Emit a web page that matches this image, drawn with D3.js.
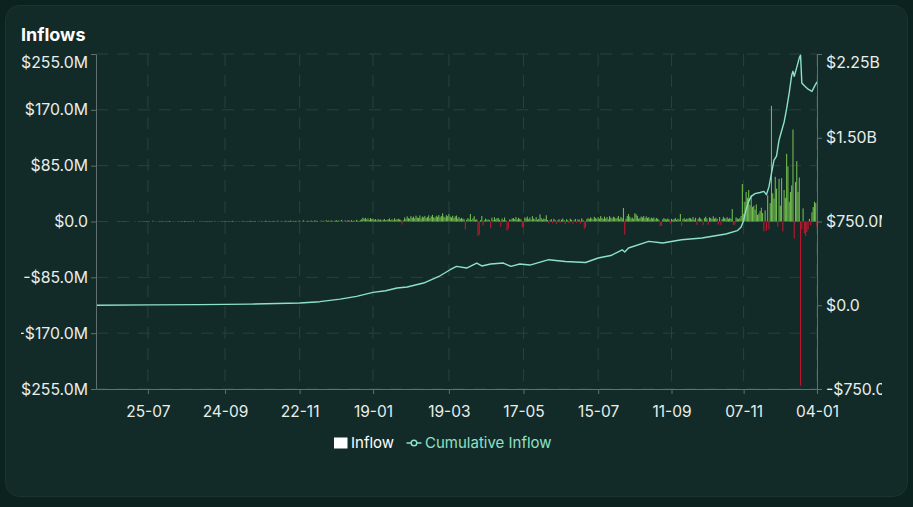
<!DOCTYPE html>
<html>
<head>
<meta charset="utf-8">
<script src="https://cdn.jsdelivr.net/npm/d3@7"></script>
<style>
  body { margin: 0; background: #0b221e; font-family: Inter, "Noto Sans", sans-serif; }
  .axis text { fill: #e8eeec; font-size: 15.8px; font-family: Inter, sans-serif; }
  .axis.x text { font-size: 15.5px; }
  .axis path, .axis line { stroke: #5f706d; }
</style>
</head>
<body>
<div id="chart"></div>
<script>
// Daily inflows in $M, one value per day starting at inflowStart
var inflowStart = "2023-06-14";
var inflowM = [
  0, 0, 0, 0, 0, 0, 0, 0, 0, 0,
  0, 0, 0, 0, 0, 0, 0, 0, 0.2, 0,
  0, 0, 0.3, 0, 0, 0, 0, 0.1, 0, 0,
  0, 0.4, 0, 0, 0.2, 0, 0, 0, 0.5, 0,
  0.6, 0, 0.3, 0, 0, 1.2, 0, 0.4, 0, 0.3,
  0.5, 0, 0.8, 0, 0.2, 0, 0.4, 0, 0.9, 0.3,
  0, 0.6, 0, 0.3, 0, 0.7, 0.2, 0, 0.4, 0,
  0.8, 0.3, 0, 0.5, 0, 0.4, 0, 1.1, 0.2, 0,
  0.3, 0, 0.6, 0.4, 0, 0.2, 0, 0.5, 0.3, 0,
  0.7, 0, 0.4, 0, 0.9, 0.3, 0, 0.5, 0, 0.6,
  0.4, 0, 0.8, 0.2, 0, 0.5, 0, 0.3, 1.0, 0,
  0.5, 0.3, 0, 0.7, 0, 0.4, 0.9, 0, 0.3, 0,
  0.6, 0, 1.1, 0.4, 0, 0.5, 0.8, 0, 0.3, 0.7,
  0, 0.9, 0.4, 0, 1.2, 0.5, 0, 0.8, 0.3, 0,
  1.0, 0.4, 0, 0.7, 1.3, 0, 0.5, 0.9, 0, 0.6,
  1.2, 0, 0.8, 0.5, 1.5, 0, 0.9, 0.4, 1.1, 0,
  0.9, 1.4, 0, 0.6, 1.8, 0.5, 0, 1.2, 0.8, 0,
  1.5, 0.7, 0, 1.9, 0.6, 1.1, 0, -0.8, 1.4, 0.5,
  1.2, 0, 2.1, 0.8, 1.5, 0, 1.8, 0.6, 0, 1.3,
  2.0, 0.9, 1.6, 0, 2.4, 1.1, 0, 1.9, 0.7, 1.5,
  1.8, -1.2, 2.2, 0.8, 1.4, 0, 2.6, 1.2, 0.5, 2.0,
  3.5, 5.8, 4.2, 5.5, 3.0, 4.8, 2.5, 5.2, 3.8, 4.4,
  2.8, 3.5, 1.6, 4.0, 2.2, 3.1, 1.4, 2.6, 3.8, 1.9,
  2.4, 3.2, 4.6, 2.0, 3.5, 1.8, 5.0, 2.7, 3.3, 4.2,
  3.1, 2.5, -4.5, 1.8, 6.2, 3.5, 7.8, 5.1, 4.3, 8.2,
  5.6, 7.4, 4.8, 8.9, 6.1, 5.3, 9.2, 4.5, 7.6, 6.3,
  8.5, 5.2, 6.8, 9.4, 4.9, 7.7, 10.2, 6.4, 5.8, 8.8,
  7.1, 9.8, 6.5, 8.3, 12.5, 7.4, 5.9, 9.6, 8.1, 11.8,
  7.5, 6.2, 8.8, 5.4, 7.9, 9.1, 4.6, 6.8, 3.9, 5.5,
  4.2, 3.5, -12, 2.8, 5.1, 3.3, 11.5, 2.2, 4.8, 8.1,
  2.5, 3.4, -22, -20, 2.1, 8.5, -6, 1.8, 4.4, 2.6,
  3.1, 2.4, -10, 5.8, 1.9, 6.5, 3.2, 4.9, 5.4, 2.7,
  -8, 4.5, 2.3, 6.1, 1.8, -14, -11, 3.2, 2.6, 4.7,
  5.2, 3.6, 6.8, 2.9, 5.5, 4.1, 3.3, -9, -8.5, 6.2,
  4.8, 7.5, 3.3, 5.9, 2.6, 8.2, 4.4, 3.1, 6.7, 2.8,
  3.9, 11, 5.2, 2.7, 4.6, 3.8, 9.5, 2.4, -3, 1.9,
  3.5, -2.5, 4.1, 2.2, -3.8, 1.6, 3.4, -2, 2.8, 4.5,
  2.1, -4, 3.6, 1.9, -2.8, 4.2, 2.5, -3.5, 1.7, 3.9,
  -2.2, 3.3, 2.6, -3.1, 4.8, 2.2, -11, -9, 3.5, 5.1,
  3.7, 6.2, 4.5, 2.9, 7.1, 5.3, 3.8, 6.6, 4.1, 8.3,
  5.5, 3.9, 7.4, 4.7, 6.8, 3.2, 8.1, 5.9, 4.4, 7.2,
  6.3, 4.2, 5.6, 8.4, 3.7, 6.9, 4.8, 20.5, -20, 4.1,
  8.5, 11.5, 7.4, 4.6, 6.1, 3.9, 12.5, 11, 8.7, 4.4,
  5.1, 7.6, 6.3, 8.2, 4.9, 7.8, 5.5, 6.4, 3.6, 5.9,
  4.7, 6.1, 3.2, 5.4, 4.3, 2.8, -7, -6.5, 3.1, 5.2,
  3.8, 2.9, 4.6, 3.3, -3.2, 4.1, 2.5, 3.7, 5.3, 2.4,
  4.2, 3.1, 11.5, -7, 3.6, 5.2, 2.8, 4.4, 3.9, 5.6,
  4.9, 3.3, 6.7, 2.7, 5.8, -5, 3.9, 6.4, 4.5, 2.9,
  -5.5, 5.1, 7.3, 4.6, -4.8, 6.2, 5.4, 3.8, 7.9, 4.3,
  5.7, 4.1, -4.5, 6.8, -5.2, 3.6, 7.2, 5.1, 4.4, 6.6,
  3.9, 5.4, 4.2, 19, -5.5, -4.8, 6.3, 4.7, 3.6, 5.2,
  8.5, 57, 12, 30, 45, 36, 48, 25, 40, 22,
  24, 18, 26, 10, 12, 16, 21, 13, -15, 17,
  -14, 40, -12, 28, 176, 43, 35, 68, 50, -8,
  65, 24, 66, -15, 48, 36, 103, 84, 30, 45,
  55, 140, -26, 60, 92, 45, 67, -250, -12, 20,
  -18, -22, -16, -12, 4, -6, 14, 22, 30, 28,
  -8
];

// Cumulative inflow in $M
var cumDates = [
  "2023-06-14", "2023-07-27", "2023-09-04", "2023-10-14", "2023-11-22", "2023-12-08",
  "2023-12-24", "2024-01-06", "2024-01-19", "2024-01-29", "2024-02-07", "2024-02-15",
  "2024-02-28", "2024-03-12", "2024-03-20", "2024-03-25", "2024-04-02", "2024-04-10",
  "2024-04-14", "2024-04-21", "2024-05-01", "2024-05-07", "2024-05-14", "2024-05-22",
  "2024-06-06", "2024-06-19", "2024-07-05", "2024-07-15", "2024-07-25", "2024-08-03",
  "2024-08-05", "2024-08-08", "2024-08-24", "2024-09-04", "2024-09-19", "2024-10-05",
  "2024-10-24", "2024-11-02", "2024-11-05", "2024-11-07", "2024-11-09", "2024-11-11",
  "2024-11-13", "2024-11-16", "2024-11-20", "2024-11-23", "2024-11-25", "2024-11-27",
  "2024-11-29", "2024-12-01", "2024-12-03", "2024-12-05", "2024-12-07", "2024-12-09",
  "2024-12-11", "2024-12-13", "2024-12-15", "2024-12-16", "2024-12-17", "2024-12-19",
  "2024-12-21", "2024-12-22", "2024-12-23", "2024-12-25", "2024-12-28", "2024-12-31",
  "2025-01-02", "2025-01-04"
];
var cumValues = [
  0, 3, 6, 10, 20, 32,
  55, 79, 115, 130, 154, 163,
  199, 264, 318, 348, 333, 378,
  352, 369, 378, 348, 369, 360,
  408, 392, 383, 423, 445, 497,
  477, 513, 572, 557, 587, 602,
  638, 668, 700, 760, 860, 930,
  975, 1000, 1010, 1020, 990, 1060,
  1180, 1300, 1335, 1480, 1560, 1640,
  1760, 1900, 2060, 2095, 2050, 2130,
  2215, 2240, 1990, 1965, 1935, 1915,
  1960, 2000
];

// Axis ticks
var xTickDates = ["2023-07-25", "2023-09-24", "2023-11-22", "2024-01-19", "2024-03-19",
  "2024-05-17", "2024-07-15", "2024-09-11", "2024-11-07", "2025-01-04"];
var leftTicks = [-255, -170, -85, 0, 85, 170, 255];
var rightTicks = [-750, 0, 750, 1500, 2250];

var svgWidth = 913;
var svgHeight = 507;
var margin = { top: 54, right: 96, bottom: 118, left: 96 };
var width = svgWidth - margin.left - margin.right;
var height = svgHeight - margin.top - margin.bottom;

var parseDate = d3.utcParse("%Y-%m-%d");
var start = parseDate(inflowStart);

var inflows = inflowM.map(function(v, i) {
  return { date: d3.utcDay.offset(start, i), value: v };
});
var cumulative = cumDates.map(function(d, i) {
  return { date: parseDate(d), value: cumValues[i] };
});

function money(v) {
  if (v === 0) return "$0.0";
  var sign = v < 0 ? "-" : "";
  var a = Math.abs(v);
  if (a >= 1000) return sign + "$" + (a / 1000).toFixed(2) + "B";
  return sign + "$" + a.toFixed(1) + "M";
}

var svg = d3.select("#chart")
  .append("svg")
  .attr("width", svgWidth)
  .attr("height", svgHeight);

// card
svg.append("rect")
  .attr("x", 5.5).attr("y", 5.5)
  .attr("width", 902).attr("height", 491)
  .attr("rx", 14)
  .attr("fill", "#132b28")
  .attr("stroke", "#1a3430");

svg.append("clipPath").attr("id", "clip")
  .append("rect")
  .attr("x", 21).attr("y", 0)
  .attr("width", 861).attr("height", svgHeight);

var root = svg.append("g").attr("clip-path", "url(#clip)");

root.append("text")
  .attr("x", 21).attr("y", 41)
  .attr("fill", "#ffffff")
  .attr("font-size", 18)
  .attr("font-weight", "bold")
  .text("Inflows");

var chartGroup = root.append("g")
  .attr("transform", `translate(${margin.left}, ${margin.top})`);

var xScale = d3.scaleUtc()
  .domain([start, parseDate("2025-01-04")])
  .range([0, width]);

var yLeft = d3.scaleLinear().domain([-255, 255]).range([height, 0]);
var yRight = d3.scaleLinear().domain([-750, 2250]).range([height, 0]);

var xTicks = xTickDates.map(parseDate);

// grid
chartGroup.append("g")
  .selectAll("line").data(leftTicks).enter()
  .append("line")
  .attr("x1", 0).attr("x2", width)
  .attr("y1", d => yLeft(d)).attr("y2", d => yLeft(d))
  .attr("stroke", "#2a423e")
  .attr("stroke-dasharray", "12 9");

chartGroup.append("g")
  .selectAll("line").data(xTicks).enter()
  .append("line")
  .attr("x1", d => xScale(d)).attr("x2", d => xScale(d))
  .attr("y1", 0).attr("y2", height)
  .attr("stroke", "#2a423e")
  .attr("stroke-dasharray", "12 9");

// bars
var dayW = xScale(d3.utcDay.offset(start, 1)) - xScale(start);
var barW = dayW * 0.85;

chartGroup.append("g")
  .selectAll("rect").data(inflows.filter(d => d.value !== 0)).enter()
  .append("rect")
  .attr("x", d => xScale(d.date) - barW / 2)
  .attr("y", d => Math.min(yLeft(d.value), yLeft(0)))
  .attr("width", barW)
  .attr("height", d => Math.abs(yLeft(d.value) - yLeft(0)))
  .attr("fill", d => d.value >= 0 ? "#72bb4e" : "#c2162f");

// cumulative line
var line = d3.line()
  .x(d => xScale(d.date))
  .y(d => yRight(d.value));

chartGroup.append("path")
  .datum(cumulative)
  .attr("d", line)
  .attr("fill", "none")
  .attr("stroke", "#8de0c9")
  .attr("stroke-width", 1.4)
  .attr("stroke-linejoin", "round");

// axes
var leftAxis = d3.axisLeft(yLeft).tickValues(leftTicks).tickFormat(money)
  .tickSize(5).tickSizeOuter(0).tickPadding(3);
var rightAxis = d3.axisRight(yRight).tickValues(rightTicks).tickFormat(money)
  .tickSize(5).tickSizeOuter(0).tickPadding(4);
var bottomAxis = d3.axisBottom(xScale).tickValues(xTicks).tickFormat(d3.utcFormat("%d-%m"))
  .tickSize(5).tickSizeOuter(0).tickPadding(12);

var gl = chartGroup.append("g").attr("class", "axis").call(leftAxis);
var gr = chartGroup.append("g").attr("class", "axis")
  .attr("transform", `translate(${width}, 0)`).call(rightAxis);
var gb = chartGroup.append("g").attr("class", "axis x")
  .attr("transform", `translate(0, ${height})`).call(bottomAxis);

[gl, gr, gb].forEach(function(g) {
  g.attr("font-family", null).attr("font-size", null);
});
// top labels sit a little below their tick
gl.selectAll(".tick").filter(d => d === 255).select("text").attr("y", 8);
gr.selectAll(".tick").filter(d => d === 2250).select("text").attr("y", 8);

// legend
var legend = root.append("g");
legend.append("rect")
  .attr("x", 334).attr("y", 437.5)
  .attr("width", 13.5).attr("height", 11)
  .attr("fill", "#ffffff");
legend.append("text")
  .attr("x", 351).attr("y", 448)
  .attr("fill", "#ffffff")
  .attr("font-size", 15)
  .text("Inflow");
legend.append("line")
  .attr("x1", 406.5).attr("x2", 421.5)
  .attr("y1", 443).attr("y2", 443)
  .attr("stroke", "#8de0c9").attr("stroke-width", 1.5);
legend.append("circle")
  .attr("cx", 414).attr("cy", 443).attr("r", 2.8)
  .attr("fill", "#132b28")
  .attr("stroke", "#8de0c9").attr("stroke-width", 1.5);
legend.append("text")
  .attr("x", 425).attr("y", 448)
  .attr("fill", "#8de0c9")
  .attr("font-size", 15)
  .text("Cumulative Inflow");
</script>
</body>
</html>
